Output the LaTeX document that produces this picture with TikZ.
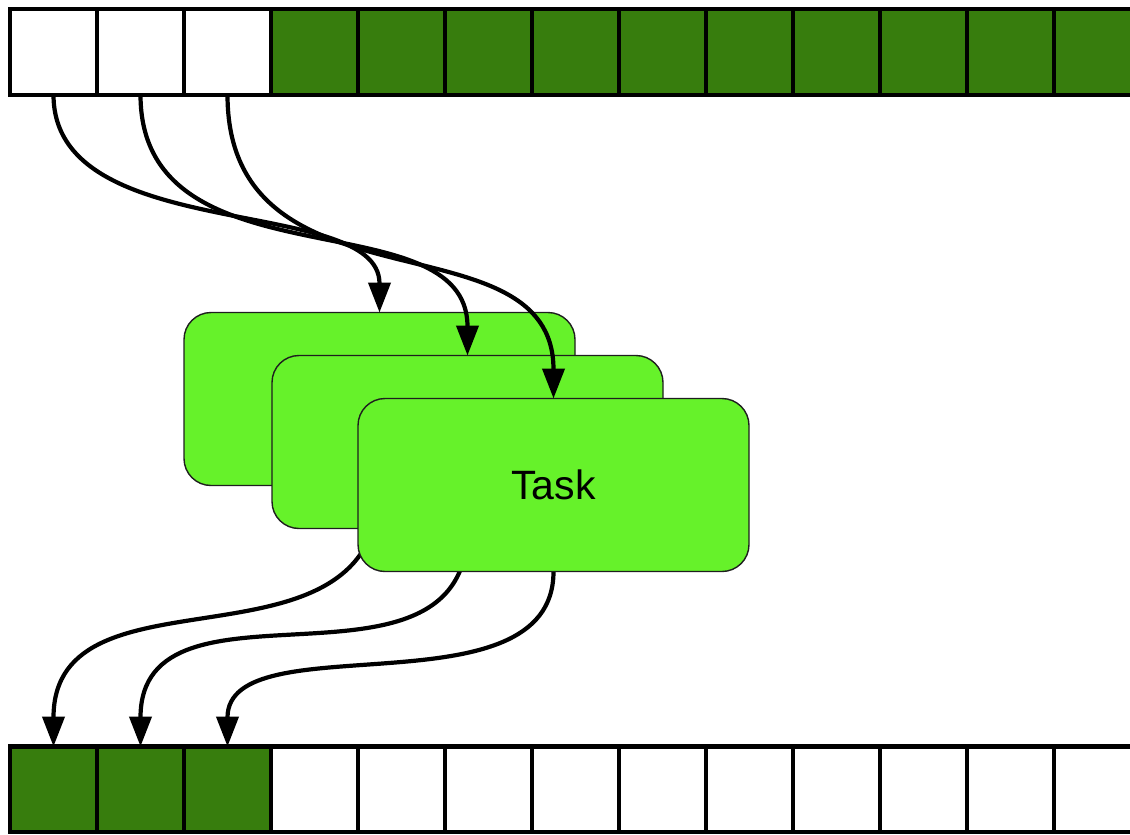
\documentclass[tikz,border=0pt]{standalone}
\usepackage{fontspec}
\setmainfont{Liberation Sans}
\usetikzlibrary{arrows.meta}
\definecolor{cellgreen}{RGB}{55,125,13}
\definecolor{taskgreen}{RGB}{102,242,42}
\definecolor{taskedge}{RGB}{30,30,30}
\tikzset{
  cell/.style={draw=black, line width=4.2pt, minimum width=87pt, minimum height=85.5pt,
    inner sep=0pt, outer sep=0pt},
  fullcell/.style={cell, fill=cellgreen},
  emptycell/.style={cell, fill=white},
  task/.style={draw=taskedge, line width=1.4pt, fill=taskgreen, rounded corners=27pt,
    minimum width=391pt, minimum height=173pt, inner sep=0pt, outer sep=0pt,
    font=\fontsize{41}{41}\selectfont},
  flow/.style={line width=4.2pt, -{Triangle[length=30pt,width=22pt]}},
}
\begin{document}
\begin{tikzpicture}[x=1pt,y=-1pt]
\useasboundingbox (0,0) rectangle (1130,835);
\clip (0,0) rectangle (1130,835);

% input queue: three free slots, the rest filled
\foreach \i in {1,2,3}
  \node[emptycell] (t\i) at ({53.5+87*(\i-1)},52) {};
\foreach \i in {4,...,13}
  \node[fullcell] (t\i) at ({53.5+87*(\i-1)},52) {};

% output queue: three filled slots, the rest free
\foreach \i in {1,2,3}
  \node[fullcell] (u\i) at ({53.5+87*(\i-1)},789.25) {};
\foreach \i in {4,...,13}
  \node[emptycell] (u\i) at ({53.5+87*(\i-1)},789.25) {};

% task placement (coordinates only, boxes drawn after the outgoing arrows)
\coordinate (c1) at (379.5,399);
\coordinate (c2) at (467.5,442);
\coordinate (c3) at (553.5,485);

% outgoing results, passing behind the stacked tasks
\path (c1) node[task, draw=none, fill=none] (b1) {}
      (c2) node[task, draw=none, fill=none] (b2) {}
      (c3) node[task, draw=none, fill=none] (b3) {};
\draw[flow] (b1.south) .. controls ([yshift=-200pt]b1.south) and ([yshift=190pt]u1.north) .. (u1.north);
\draw[flow] (b2.south) .. controls ([yshift=-185pt]b2.south) and ([yshift=185pt]u2.north) .. (u2.north);
\draw[flow] (b3.south) .. controls ([yshift=-145pt]b3.south) and ([yshift=125pt]u3.north) .. (u3.north);

% stacked tasks
\node[task] (task1) at (c1) {};
\node[task] (task2) at (c2) {};
\node[task] (task3) at (c3) {Task};

% incoming work items
\draw[flow] (t1.south) .. controls ([yshift=-152pt]t1.south) and ([yshift=119pt]task1.north) .. (task1.north);
\draw[flow] (t2.south) .. controls ([yshift=-195pt]t2.south) and ([yshift=159pt]task2.north) .. (task2.north);
\draw[flow] (t3.south) .. controls ([yshift=-225pt]t3.south) and ([yshift=187pt]task3.north) .. (task3.north);
\end{tikzpicture}
\end{document}
